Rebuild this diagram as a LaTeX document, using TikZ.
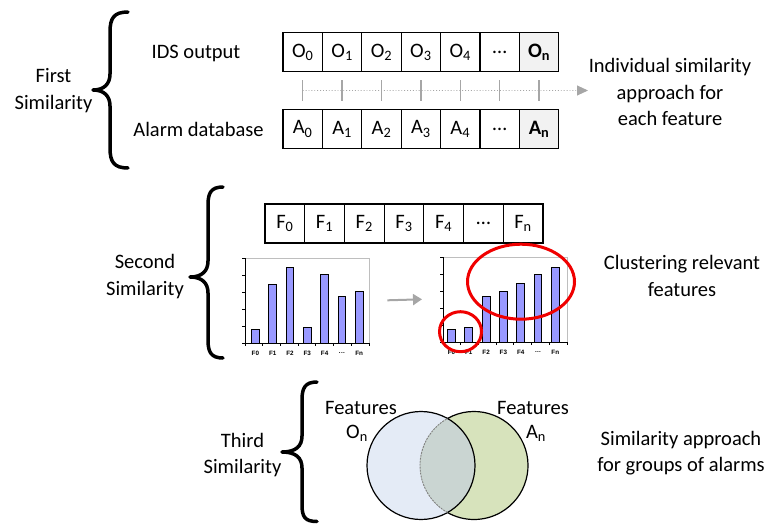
\documentclass[tikz,border=0pt]{standalone}
\usepackage{fontspec}
\setmainfont{Carlito}
\newfontfamily\chartfont{Liberation Sans}
\usetikzlibrary{arrows.meta,calc}
\definecolor{lastgray}{RGB}{242,242,242}
\definecolor{sepgray}{RGB}{166,166,166}
\definecolor{barblue}{RGB}{153,153,255}
\definecolor{chartframe}{RGB}{190,190,190}
\definecolor{vennblue}{RGB}{228,235,246}
\definecolor{venngreen}{RGB}{215,227,188}
\definecolor{vennmix}{RGB}{202,213,210}
\definecolor{clusterred}{RGB}{240,0,0}
\newcommand\mytridots{.\kern0.3pt.\kern0.3pt.}
\begin{document}
\begin{tikzpicture}[x=1pt,y=-1pt,
  lbl/.style={inner sep=0pt, font=\fontsize{20.5}{26.5}\selectfont, align=center},
  cell/.style={draw, line width=1.2pt, minimum width=39.4pt, minimum height=39pt, inner sep=0pt, font=\fontsize{20.5}{24}\selectfont},
  lastcell/.style={cell, fill=lastgray, font=\fontsize{20.5}{24}\selectfont\bfseries},
  fcell/.style={cell, minimum width=39.7pt},
  bracestyle/.style={line width=3.5pt, line cap=round, line join=round},
  sep/.style={draw=sepgray, line width=1.5pt},
  guide/.style={draw=sepgray, line width=0.9pt, dotted},
  bar/.style={draw=black, line width=1pt, fill=barblue},
  ticklbl/.style={font=\chartfont\bfseries\fontsize{6.3}{7}\selectfont, inner sep=0pt},
  cluster/.style={draw=clusterred, line width=3pt},
  area/.style={minimum width=124pt, minimum height=85pt, inner sep=0pt, anchor=south west},
]
\useasboundingbox (0,0) rectangle (774,525);

% ---------- First similarity ----------
\draw[bracestyle] (128,12) .. controls (114,12) and (110,18) .. (110,32) -- (110,74)
  .. controls (110,84) and (104,90) .. (93,90) .. controls (104,90) and (110,96) .. (110,106)
  -- (110,148) .. controls (110,162) and (114,168) .. (128,168);
\node[lbl] (first) at (53.5,90.5) {First\\Similarity};
\node[lbl] (ids) at (196,53) {IDS output};
\node[lbl] (alarmdb) at (198.5,129) {Alarm database};

\foreach \k in {0,...,4} {
  \node[cell] (o\k) at ({302.7+39.4*\k},52) {O\textsubscript{\k}};
  \node[cell] (a\k) at ({302.7+39.4*\k},129) {A\textsubscript{\k}};
}
\node[cell] (o5) at (499.7,52) {…};
\node[cell] (a5) at (499.7,129) {…};
\node[lastcell] (o6) at (539.1,52) {O\textsubscript{n}};
\node[lastcell] (a6) at (539.1,129) {A\textsubscript{n}};

\coordinate (guideend) at (588,90.5);
\draw[guide, -{Triangle[length=11pt,width=10pt]}] ($(o0.south)!0.5!(a0.north)$) -- (guideend);
\foreach \k in {0,...,6}
  \draw[sep] ($(o\k.south)+(0,8)$) -- ($(a\k.north)+(0,-8)$);

\node[lbl] (indiv) at (670,92) {Individual similarity\\approach for\\each feature};

% ---------- Second similarity ----------
\draw[bracestyle] (223,187) .. controls (211,187) and (208,193) .. (208,205) -- (208,261)
  .. controls (208,271) and (202,277) .. (190,277) .. controls (202,277) and (208,283) .. (208,293)
  -- (208,340) .. controls (208,352) and (211,358) .. (223,358);
\node[lbl] (second) at (145,276.5) {Second\\Similarity};

\foreach \k in {0,...,4}
  \node[fcell] (f\k) at ({284.85+39.7*\k},223.5) {F\textsubscript{\k}};
\node[fcell] (f5) at (483.35,223.5) {…};
\node[fcell] (f6) at (523.05,223.5) {F\textsubscript{n}};

% left chart
\node[area] (chartL) at (245,343) {};
\begin{scope}[shift={(245,343)}, yscale=-1]
  \draw[chartframe, line width=1pt] (0,85) -- (124,85) -- (124,0);
  \foreach \k/\h in {0/13.7, 1/59, 2/75.3, 3/15.3, 4/68.3, 5/47, 6/51.3}
    \draw[bar] ({17.3*\k+6.5},0) rectangle ({17.3*\k+14.3},\h);
  \draw[line width=1pt] (0,85) -- (0,0) -- (124,0);
  \foreach \v in {0,17,34,51,68,85} \draw[line width=0.8pt] (-3,\v) -- (0,\v);
  \foreach \k in {0,1,2,3,4,5,6,7} \draw[line width=0.8pt] ({17.7*\k},0) -- ({17.7*\k},-3);
  \foreach \k/\t in {0/F0,1/F1,2/F2,3/F3,4/F4,5/\mytridots,6/Fn}
    \node[ticklbl] (ll\k) at ({17.3*\k+10.4},-10.5) {\t};
\end{scope}

% right chart
\node[area] (chartR) at (443,342) {};
\begin{scope}[shift={(443,342)}, yscale=-1]
  \draw[chartframe, line width=1pt] (0,85) -- (124,85) -- (124,0);
  \foreach \k/\h in {0/13, 1/14.3, 2/46, 3/50.3, 4/58.3, 5/67.3, 6/74.3}
    \draw[bar] ({17.3*\k+4.6},0) rectangle ({17.3*\k+12.4},\h);
  \draw[line width=1pt] (0,85) -- (0,0) -- (124,0);
  \foreach \v in {0,17,34,51,68,85} \draw[line width=0.8pt] (-3,\v) -- (0,\v);
  \foreach \k in {0,1,2,3,4,5,6,7} \draw[line width=0.8pt] ({17.7*\k},0) -- ({17.7*\k},-3);
  \foreach \k/\t in {0/F0,1/F1,2/F2,3/F3,4/F4,5/\mytridots,6/Fn}
    \node[ticklbl] (rl\k) at ({17.3*\k+8.5},-10.5) {\t};
\end{scope}

\draw[sepgray, line width=2pt, -{Triangle[length=9pt,width=11pt]}] ([xshift=18pt]chartL.east) -- ([xshift=-21pt]chartR.west);

\draw[cluster] (460.5,331.7) ellipse [x radius=21, y radius=20];
\draw[cluster] (521,281.7) ellipse [x radius=53.5, y radius=37.5];

\node[lbl] (clust) at (682,276) {Clustering relevant\\features};

% ---------- Third similarity ----------
\draw[bracestyle] (317,382) .. controls (305,382) and (302,388) .. (302,400) -- (302,436)
  .. controls (302,446) and (296,452) .. (282,452) .. controls (296,452) and (302,458) .. (302,468)
  -- (302,505) .. controls (302,517) and (305,521.5) .. (317,521.5);
\node[lbl] (third) at (242.5,455) {Third\\Similarity};

\fill[vennblue] (421,465.5) circle[radius=54];
\fill[venngreen] (474,465.5) circle[radius=54];
\begin{scope}
  \clip (421,465.5) circle[radius=54];
  \fill[vennmix] (474,465.5) circle[radius=54];
\end{scope}
\draw[line width=1.2pt] (421,465.5) circle[radius=54];
\draw[line width=1.2pt] (447.5,418.45) arc[start angle=-119.4, end angle=119.4, radius=54];
\draw[line width=0.9pt, gray, dash pattern=on 2pt off 1pt] (447.5,512.55) arc[start angle=119.4, end angle=240.6, radius=54];

\node[lbl] (featO) at (361,408) {Features};
\node[lbl] (on) at (357,433) {O\textsubscript{n}};
\node[lbl] (featA) at (533,408) {Features};
\node[lbl] (an) at (536,433) {A\textsubscript{n}};

\node[lbl] (groups) at (681,453) {Similarity approach\\for groups of alarms};
\end{tikzpicture}
\end{document}
